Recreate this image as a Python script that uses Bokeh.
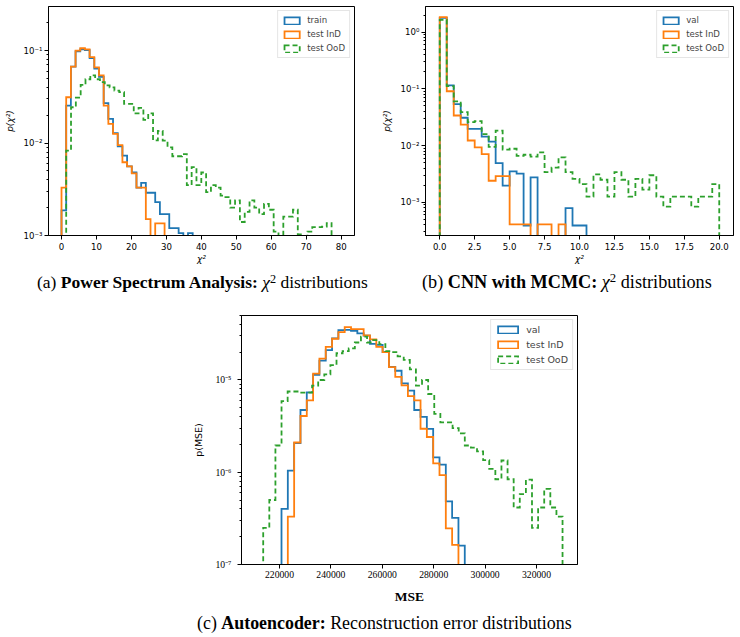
import numpy as np
from bokeh.plotting import figure
from bokeh.models import (Range1d, FixedTicker, CustomJSTickFormatter, NumeralTickFormatter,
                          Legend, LegendItem, ColumnDataSource, Div, Spacer)
from bokeh.layouts import column, row
from bokeh.embed import file_html
from bokeh.resources import INLINE

# ---------------- (a) Power spectrum analysis: chi^2 densities ----------------
PS_BIN = 1.34
PS_TRAIN_START = 0.0
PS_TRAIN = [0.00187, 0.0254, 0.067, 0.098, 0.103, 0.101, 0.083, 0.064, 0.052, 0.027,
            0.0183, 0.0128, 0.0092, 0.0073, 0.0056, 0.0048, 0.0033, 0.0037, 0.0029, 0.0029,
            0.0023, 0.0017, 0.0017, 0.0012, 0.0012, 0.00106, 0.0, 0.00106]
PS_TEST_START = 0.0
PS_TEST = [0.0033, 0.0313, 0.067, 0.100, 0.106, 0.103, 0.085, 0.066, 0.054, 0.0254,
           0.0161, 0.0126, 0.0095, 0.0062, 0.0056, 0.0047, 0.0033, 0.0033, 0.0015, 0.0,
           0.00135, 0.00135]
PS_OOD_START = 1.34
PS_OOD_BIN = 1.38
PS_OOD = [0.0083, 0.0244, 0.031, 0.0425, 0.049, 0.054, 0.049, 0.0455, 0.042, 0.040,
          0.037, 0.0355, 0.0265, 0.0265, 0.0209, 0.024, 0.0178, 0.0209, 0.0107, 0.0135,
          0.0106, 0.009, 0.0072, 0.0072, 0.0076, 0.0035, 0.0055, 0.0035, 0.0048, 0.00295,
          0.0035, 0.0033, 0.0027, 0.0026, 0.002, 0.0024, 0.0014, 0.0018, 0.0024, 0.002,
          0.0017, 0.0022, 0.0019, 0.0011, 0.0009, 0.0016, 0.0016, 0.0019, 0.00103, 0.0009,
          0.0011, 0.00123, 0.00123, 0.00125, 0.00136]

# ---------------- (b) CNN with MCMC: chi^2 densities ----------------
CNN_BIN = 0.5
CNN_START = 0.0
CNN_VAL = [1.79, 0.115, 0.054, 0.031, 0.0197, 0.0197, 0.0144, 0.0118, 0.0049, 0.00197,
           0.0035, 0.0032, 0.00039, 0.00276, 0.0, 0.0, 0.0, 0.0, 0.00079, 0.00039, 0.00039]
CNN_TEST = [1.84, 0.091, 0.034, 0.0234, 0.0123, 0.0093, 0.0071, 0.0024, 0.0029, 0.0029,
            0.00041, 0.00041, 0.00041, 0.0, 0.00041, 0.00041, 0.0, 0.00041]
CNN_OOD = [1.65, 0.112, 0.0605, 0.039, 0.026, 0.027, 0.016, 0.0095, 0.0184, 0.0085,
           0.0088, 0.0066, 0.0069, 0.0064, 0.0076, 0.0034, 0.0041, 0.0062, 0.0034, 0.0026,
           0.0021, 0.00126, 0.0031, 0.0025, 0.00126, 0.0034, 0.0025, 0.00126, 0.0026, 0.00168,
           0.003, 0.00126, 0.00084, 0.00126, 0.00126, 0.00126, 0.00084, 0.00126, 0.00126, 0.0021]

# ---------------- (c) Autoencoder: reconstruction error densities ----------------
AE_BIN = 2459
AE_VAL_START = 220780
AE_VAL = [4.0e-7, 1.04e-6, 2.07e-6, 4.73e-6, 7.35e-6, 1.14e-5, 1.62e-5, 2.11e-5, 2.82e-5, 3.47e-5,
          3.5e-5, 3.4e-5, 3.2e-5, 3.02e-5, 2.46e-5, 2.4e-5, 2.0e-5, 1.39e-5, 1.26e-5, 9.2e-6,
          7.66e-6, 4.73e-6, 3.98e-6, 2.95e-6, 1.45e-6, 1.21e-6, 4.84e-7, 3.2e-7, 1.6e-7]
AE_TEST_START = 223239
AE_TEST = [3.3e-7, 2.1e-6, 4.07e-6, 6.0e-6, 1.17e-5, 1.7e-5, 2.28e-5, 2.8e-5, 3.3e-5, 3.75e-5,
           3.55e-5, 3.55e-5, 3.04e-5, 2.75e-5, 2.28e-5, 2.0e-5, 1.38e-5, 1.08e-5, 8.75e-6, 6.7e-6,
           6.0e-6, 2.96e-6, 2.41e-6, 1.25e-6, 9.3e-7, 2.46e-7, 1.63e-7]
AE_OOD_START = 213660
AE_OOD_BIN = 2377
AE_OOD = [2.5e-7, 5.0e-7, 1.95e-6, 5.9e-6, 7.5e-6, 7.5e-6, 7.3e-6, 7.3e-6, 8.7e-6, 1.0e-5,
          1.15e-5, 1.45e-5, 1.95e-5, 2.05e-5, 2.2e-5, 2.55e-5, 2.95e-5, 2.55e-5, 2.7e-5, 2.45e-5,
          2.05e-5, 2.0e-5, 1.8e-5, 1.65e-5, 1.3e-5, 8.7e-6, 1.0e-5, 7.05e-6, 4.3e-6, 3.48e-6,
          3.48e-6, 3.0e-6, 2.64e-6, 1.95e-6, 1.85e-6, 1.68e-6, 1.35e-6, 1.09e-6, 8.4e-7, 1.34e-6,
          8.4e-7, 4.15e-7, 5.8e-7, 8.3e-7, 2.5e-7, 4.15e-7, 6.6e-7, 4.15e-7, 3.3e-7]

BLUE, ORANGE, GREEN = "#1f77b4", "#ff7f0e", "#2ca02c"
SANS = "DejaVu Sans"
SERIF = "Liberation Serif"

POW10 = CustomJSTickFormatter(code="""
const sup = {"-": "\\u207b", "0": "\\u2070", "1": "\\u00b9", "2": "\\u00b2", "3": "\\u00b3",
             "4": "\\u2074", "5": "\\u2075", "6": "\\u2076", "7": "\\u2077", "8": "\\u2078", "9": "\\u2079"};
const e = Math.round(Math.log10(tick));
return "10" + String(e).split("").map(c => sup[c]).join("");
""")


def step_outline(start, width, values, floor):
    """Outline of a step histogram (matplotlib histtype='step')."""
    edges = start + width * np.arange(len(values) + 1)
    xs, ys = [edges[0]], [floor]
    for i, v in enumerate(values):
        h = v if v > 0 else floor
        xs += [edges[i], edges[i + 1]]
        ys += [h, h]
    xs.append(edges[-1])
    ys.append(floor)
    return ColumnDataSource(dict(x=xs, y=ys))


def log_ticks(e_lo, e_hi, top):
    major = [10.0 ** e for e in range(e_lo, e_hi + 1)]
    minor = [m * 10.0 ** e for e in range(e_lo - 1, e_hi + 1) for m in range(2, 10)
             if m * 10.0 ** e <= top]
    return FixedTicker(ticks=major, minor_ticks=minor)


def make_panel(xr, yr, fw, fh, bl, br, bt, bb):
    p = figure(width=bl + fw + br, height=bt + fh + bb, frame_width=fw, frame_height=fh,
               min_border_left=bl, min_border_right=br, min_border_top=bt, min_border_bottom=bb,
               x_range=Range1d(*xr), y_range=Range1d(*yr), y_axis_type="log",
               output_backend="svg", toolbar_location=None)
    p.grid.visible = False
    p.outline_line_color = "black"
    p.outline_line_alpha = 1.0
    p.outline_line_width = 1
    p.background_fill_color = "white"
    p.border_fill_color = "white"
    for ax in (p.xaxis[0], p.yaxis[0]):
        ax.axis_line_color = "black"
        ax.major_tick_line_color = "black"
        ax.minor_tick_line_color = "black"
        ax.major_tick_in = 0
        ax.major_tick_out = 4
        ax.minor_tick_in = 0
        ax.minor_tick_out = 2
        ax.major_label_text_color = "black"
        ax.axis_label_text_color = "black"
    p.xaxis.minor_tick_line_color = None
    return p


def add_hists(p, series, floor, legend_font_size, glyph_w, lw=1.8):
    items = []
    for label, start, width, vals, color, dash in series:
        src = step_outline(start, width, vals, floor)
        p.line("x", "y", source=src, line_color=color, line_width=lw, line_dash=dash,
               line_join="miter")
        # legend key: an outlined box, as for a step histogram (the quad itself has no extent)
        key = ColumnDataSource(dict(l=[np.nan], r=[np.nan], t=[np.nan], b=[np.nan]))
        q = p.quad(left="l", right="r", top="t", bottom="b", source=key, fill_alpha=0,
                   line_color=color, line_width=lw, line_dash=dash, line_join="miter")
        items.append(LegendItem(label=label, renderers=[q]))
    leg = Legend(items=items, location="top_right")
    leg.margin = 4
    leg.padding = 4
    leg.spacing = 4
    leg.glyph_width = glyph_w
    leg.glyph_height = 9
    leg.label_height = 9
    leg.label_standoff = 6
    leg.label_text_font = SANS
    leg.label_text_font_size = legend_font_size
    leg.border_line_color = "#cccccc"
    leg.border_line_width = 1
    leg.background_fill_alpha = 0.8
    p.add_layout(leg)


DASH = "5 3"

# ---- panel (a)
pa = make_panel((-3.72, 83.8), (1e-3, 0.30), 306, 229, 48, 16, 6, 35)
pa.yaxis.ticker = log_ticks(-3, -1, 0.30)
pa.yaxis.formatter = POW10
pa.xaxis.ticker = FixedTicker(ticks=list(range(0, 81, 10)))
add_hists(pa, [
    ("train", PS_TRAIN_START, PS_BIN, PS_TRAIN, BLUE, "solid"),
    ("test InD", PS_TEST_START, PS_BIN, PS_TEST, ORANGE, "solid"),
    ("test OoD", PS_OOD_START, PS_OOD_BIN, PS_OOD, GREEN, DASH),
], 1e-6, "8.6px", 19)
pa.xaxis.axis_label = "χ²"
pa.yaxis.axis_label = "p(χ²)"

# ---- panel (b)
pb = make_panel((-1.02, 21.02), (2.6e-4, 2.84), 308, 229, 55, 7, 6, 35)
pb.yaxis.ticker = log_ticks(-3, 0, 2.84)
pb.yaxis.formatter = POW10
pb.xaxis.ticker = FixedTicker(ticks=[0, 2.5, 5, 7.5, 10, 12.5, 15, 17.5, 20])
pb.xaxis.formatter = NumeralTickFormatter(format="0.0")
add_hists(pb, [
    ("val", CNN_START, CNN_BIN, CNN_VAL, BLUE, "solid"),
    ("test InD", CNN_START, CNN_BIN, CNN_TEST, ORANGE, "solid"),
    ("test OoD", CNN_START, CNN_BIN, CNN_OOD, GREEN, DASH),
], 1e-7, "8.6px", 19)
pb.xaxis.axis_label = "χ²"
pb.yaxis.axis_label = "p(χ²)"

for p in (pa, pb):
    for ax in (p.xaxis[0], p.yaxis[0]):
        ax.major_label_text_font = SANS
        ax.major_label_text_font_size = "8.6px"
        ax.axis_label_text_font = SANS
        ax.axis_label_text_font_size = "9px"
        ax.axis_label_text_font_style = "italic"
    p.yaxis.major_label_standoff = 2
    p.yaxis.axis_label_standoff = 6
    p.xaxis.major_label_standoff = 3
    p.xaxis.axis_label_standoff = 1

# ---- panel (c)
pc = make_panel((205214, 335953), (1e-7, 5.0e-5), 336, 249, 61, 20, 10, 41)
pc.yaxis.ticker = log_ticks(-7, -5, 5.0e-5)
pc.yaxis.formatter = POW10
pc.xaxis.ticker = FixedTicker(ticks=list(range(220000, 320001, 20000)))
pc.xaxis.formatter = NumeralTickFormatter(format="0")
add_hists(pc, [
    ("val", AE_VAL_START, AE_BIN, AE_VAL, BLUE, "solid"),
    ("test InD", AE_TEST_START, AE_BIN, AE_TEST, ORANGE, "solid"),
    ("test OoD", AE_OOD_START, AE_OOD_BIN, AE_OOD, GREEN, DASH),
], 1e-10, "9.5px", 25)
pc.legend.label_height = 10
for ax in (pc.xaxis[0], pc.yaxis[0]):
    ax.major_label_text_font = SERIF
    ax.major_label_text_font_size = "9.7px"
pc.yaxis.axis_label = "p(MSE)"
pc.yaxis.axis_label_text_font = SANS
pc.yaxis.axis_label_text_font_size = "9.5px"
pc.yaxis.axis_label_text_font_style = "normal"
pc.yaxis.major_label_standoff = 6
pc.yaxis.axis_label_standoff = 8
pc.xaxis.axis_label = "MSE"
pc.xaxis.axis_label_text_font = SERIF
pc.xaxis.axis_label_text_font_size = "13.5px"
pc.xaxis.axis_label_text_font_style = "bold"
pc.xaxis.major_label_standoff = 2
pc.xaxis.axis_label_standoff = 8

# ---- captions
SUP = "<sup style='font-size:70%; line-height:0; vertical-align:0.45em;'>2</sup>"


def caption(html, width, height, pad_left, pad_top, size):
    style = ("font-family:'Liberation Serif',serif; font-size:%spx; line-height:20px; color:black;"
             " white-space:nowrap; padding-left:%dpx; padding-top:%dpx;"
             % (size, pad_left, pad_top))
    return Div(text=f"<div style=\"{style}\">{html}</div>",
               width=width, height=height, margin=(0, 0, 0, 0))


cap_a = caption(f"(a) <b>Power Spectrum Analysis:</b> <i>χ</i>{SUP} distributions", 370, 35, 37, 2, 17.5)
cap_b = caption(f"(b) <b>CNN with MCMC:</b> <i>χ</i>{SUP} distributions", 370, 35, 52, 2, 18.2)
cap_c = caption("(c) <b>Autoencoder:</b> Reconstruction error distributions", 740, 33, 197, 7, 17.9)

page = column(
    row(pa, pb),
    row(cap_a, cap_b),
    row(Spacer(width=180, height=pc.height), pc),
    cap_c,
)

open("out.html", "w").write(file_html(page, INLINE))
